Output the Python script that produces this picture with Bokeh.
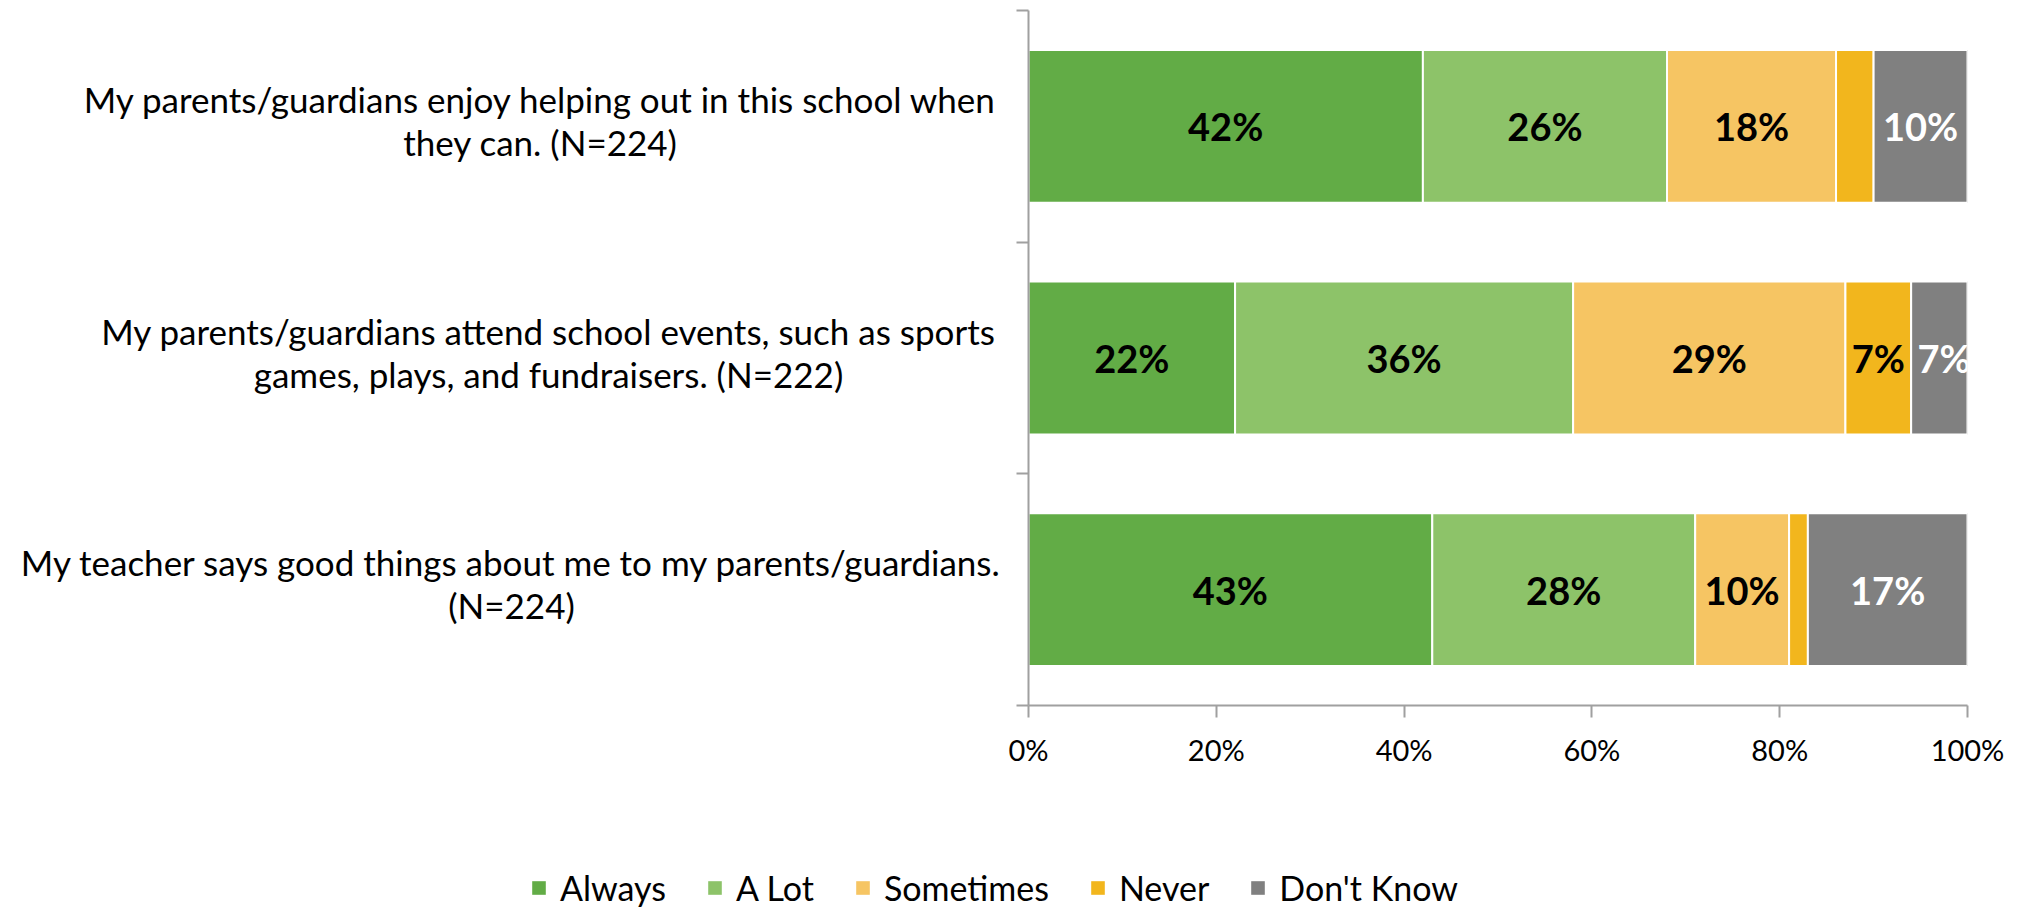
from bokeh.plotting import figure
from bokeh.layouts import column, row
from bokeh.models import ColumnDataSource, FixedTicker, Range1d
from bokeh.core.properties import value
from bokeh.embed import file_html
from bokeh.resources import INLINE

# ---- data ----
categories = [
    ["My parents/guardians enjoy helping out in this school when", "they can. (N=224)"],
    ["My parents/guardians attend school events, such as sports", "games, plays, and fundraisers. (N=222)"],
    ["My teacher says good things about me to my parents/guardians.", "(N=224)"],
]
series = ["Always", "A Lot", "Sometimes", "Never", "Don't Know"]
always = [42, 22, 43]
a_lot = [26, 36, 28]
sometimes = [18, 29, 10]
never = [4, 7, 2]
dont_know = [10, 7, 17]
x_ticks = [0, 20, 40, 60, 80, 100]
x_tick_labels = ["0%", "20%", "40%", "60%", "80%", "100%"]

# ---- style ----
colors = ["#62AC46", "#8DC369", "#F6C563", "#F2B61D", "#808080"]
label_colors = ["black", "black", "black", "black", "white"]
FONT = "Lato"
label_centers = [540, 548, 511]   # centers of the category label blocks (px in the left panel)
TOP_H = 800
LEG_H = 108
LEFT_W = 1008
MAIN_W = 1004

values = [always, a_lot, sometimes, never, dont_know]
n = len(categories)
ypos = [n - i - 0.5 for i in range(n)]
y_range = Range1d(0, n)

data = {"y": ypos}
for s, v in zip(series, values):
    data[s] = v
source = ColumnDataSource(data)

# ---- main bar chart ----
p = figure(width=MAIN_W, height=TOP_H, x_range=Range1d(0, 100), y_range=y_range,
           output_backend="svg", toolbar_location=None,
           min_border_left=20, min_border_right=45, min_border_top=10, min_border_bottom=95)
p.outline_line_color = None
p.xgrid.grid_line_color = None
p.ygrid.grid_line_color = None

p.hbar_stack(series, y="y", height=0.66, color=colors, line_color="white",
             line_width=2, source=source)

lx, ly, lt, lc = [], [], [], []
for i in range(n):
    left = 0
    for j, v in enumerate(values):
        val = v[i]
        if val >= 5:
            lx.append(left + val / 2)
            ly.append(ypos[i])
            lt.append(f"{val}%")
            lc.append(label_colors[j])
        left += val
p.text(x=lx, y=ly, text=lt, text_color=lc, text_align="center", text_baseline="middle",
       text_font=value(FONT), text_font_style="bold", text_font_size="38px")

p.xaxis.ticker = FixedTicker(ticks=x_ticks)
p.xaxis.major_label_overrides = {t: l for t, l in zip(x_ticks, x_tick_labels)}
p.xaxis.major_label_text_font = FONT
p.xaxis.major_label_text_font_size = "29px"
p.xaxis.major_label_text_color = "black"
p.xaxis.major_label_standoff = 14
p.xaxis.axis_line_color = "#A0A0A0"
p.xaxis.axis_line_width = 2
p.xaxis.major_tick_line_color = "#A0A0A0"
p.xaxis.major_tick_line_width = 2
p.xaxis.major_tick_out = 12
p.xaxis.major_tick_in = 0
p.xaxis.minor_tick_line_color = None

p.yaxis.ticker = FixedTicker(ticks=[0, 1, 2, 3])
p.yaxis.major_label_text_color = None
p.yaxis.axis_line_color = "#A0A0A0"
p.yaxis.axis_line_width = 2
p.yaxis.major_tick_line_color = "#A0A0A0"
p.yaxis.major_tick_line_width = 2
p.yaxis.major_tick_out = 12
p.yaxis.major_tick_in = 0
p.yaxis.minor_tick_line_color = None

# ---- category labels panel ----
pl = figure(width=LEFT_W, height=TOP_H, x_range=Range1d(0, LEFT_W), y_range=y_range,
            output_backend="svg", toolbar_location=None,
            x_axis_location=None, y_axis_location=None,
            min_border_left=0, min_border_right=0, min_border_top=10, min_border_bottom=95)
pl.outline_line_color = None
pl.xgrid.grid_line_color = None
pl.ygrid.grid_line_color = None
tx, ty, tt, toff = [], [], [], []
for i, lines in enumerate(categories):
    k = len(lines)
    for j, line in enumerate(lines):
        tx.append(label_centers[i])
        ty.append(ypos[i])
        tt.append(line)
        toff.append(-(k - 1) * 21.5 + j * 43 - 6)
pl.text(x=tx, y=ty, text=tt, y_offset=toff, text_align="center", text_baseline="middle",
        text_font=value(FONT), text_font_size="35px", text_color="black")

# ---- legend panel ----
pg = figure(width=LEFT_W + MAIN_W, height=LEG_H, x_range=Range1d(0, 1), y_range=Range1d(0, 1),
            output_backend="svg", toolbar_location=None,
            x_axis_location=None, y_axis_location=None, min_border=0)
pg.outline_line_color = None
pg.xgrid.grid_line_color = None
pg.ygrid.grid_line_color = None
for s, c in zip(series, colors):
    # placed far outside the visible range: only the legend swatch is seen
    pg.hbar(y=[50], left=[50], right=[60], height=0.5, fill_color=c, line_color=None,
            legend_label=s)
lg = pg.legend[0]
lg.orientation = "horizontal"
lg.location = (530, 0)
lg.padding = 0
lg.margin = 0
lg.spacing = 40
lg.glyph_width = 17
lg.glyph_height = 17
lg.label_standoff = 13
lg.label_text_font = FONT
lg.label_text_font_size = "34px"
lg.label_text_color = "black"
lg.border_line_color = None
lg.background_fill_alpha = 0

layout = column(row(pl, p), pg)
open("out.html", "w").write(file_html(layout, INLINE))
